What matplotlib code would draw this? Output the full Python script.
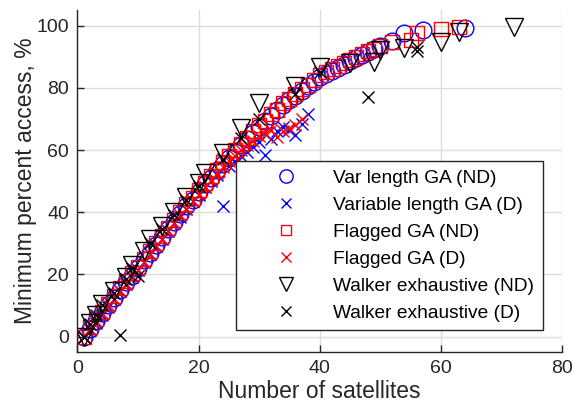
"""Minimum percent access vs. constellation size for the GA and Walker searches."""
import matplotlib

matplotlib.use("Agg")

import matplotlib.pyplot as plt  # noqa: E402

plt.rcParams["font.family"] = ["Liberation Sans", "DejaVu Sans"]

# --------------------------------------------------------------------------- #
# Data
# --------------------------------------------------------------------------- #
# Variable-length GA, non-degraded
var_nd_n = [1, 2, 3, 4, 5, 6, 7, 8, 9, 10, 11, 12, 13, 14, 15, 16, 17, 18,
            19, 20, 21, 22, 23, 24, 25, 26, 27, 28, 29, 30, 31, 32, 33, 34,
            35, 36, 37, 38, 39, 40, 41, 42, 43, 44, 45, 46, 47, 48, 49, 50,
            52, 54, 57, 64]
var_nd_pct = [0, 2.5, 5, 7.5, 10, 12.5, 15, 17.5, 19.5, 22, 24.5, 27, 29.5,
              32, 34.5, 37, 39.5, 42, 44, 46.5, 49, 51, 53.5, 55.5, 57.5,
              59.5, 61.5, 63.5, 65.5, 67.5, 69.5, 71, 73, 74.5, 76, 77.5, 79,
              80.5, 82, 83.5, 84.5, 85.5, 86.5, 87.5, 88.5, 89.5, 90.5, 91.5,
              92.5, 93.5, 95, 97.5, 98.5, 99.3]

# Variable-length GA, degraded
var_d_n = [1, 2, 3, 4, 5, 6, 7, 8, 9, 10, 11, 12, 13, 14, 15, 16, 17, 18,
           19, 20, 21, 22, 23, 24, 25, 26, 27, 28, 29, 30, 31, 32, 33, 34,
           35, 36, 37, 38]
var_d_pct = [0, 2, 4.5, 7, 9.5, 12, 14.5, 17, 19, 21.5, 24, 26.5, 29, 31.5,
             34, 36.5, 38.5, 41, 43.5, 45.5, 48, 50, 52, 42, 55, 56.5, 58,
             59.5, 61, 62.5, 58.5, 63.5, 66, 67.5, 66.5, 64.7, 68.3, 71.7]

# Flagged GA, non-degraded
flag_nd_n = [1, 2, 3, 4, 5, 6, 7, 8, 9, 10, 11, 12, 13, 14, 15, 16, 17, 18,
             19, 20, 21, 22, 23, 24, 25, 26, 27, 28, 29, 30, 31, 32, 33, 34,
             35, 36, 37, 38, 39, 40, 41, 42, 43, 44, 45, 46, 47, 48, 49, 50,
             52, 55, 56, 60, 63]
flag_nd_pct = [0, 3, 5.5, 8, 10.5, 13, 15.5, 18, 20.5, 22.5, 25, 27.5, 30,
               32.5, 35, 37.5, 40, 42.5, 44.5, 47, 49.5, 51.5, 53.5, 56, 58,
               60, 62, 64, 66, 68, 69.5, 71.5, 73, 75, 76.5, 78, 79.5, 81,
               82.5, 84, 85, 86, 87, 88, 89, 90, 91, 92, 92.5, 93.5, 94.8,
               95.4, 97.5, 98.8, 99.7]

# Flagged GA, degraded
flag_d_n = [1, 2, 3, 4, 5, 6, 7, 8, 9, 10, 11, 12, 13, 14, 15, 16, 17, 18,
            19, 20, 21, 22, 23, 24, 25, 26, 27, 28, 29, 30, 31, 32, 33, 34,
            35, 36, 37]
flag_d_pct = [0, 2.5, 5, 7.5, 10, 12, 14.5, 17, 19.5, 21.5, 24, 26.5, 29,
              31.5, 34, 36.5, 39, 41, 43.5, 46, 48, 50.5, 52.5, 54.5, 56.5,
              58, 60, 61.5, 63, 64.5, 65, 66.5, 64.2, 66, 67, 68, 70]

# Walker exhaustive search, non-degraded
walker_nd_n = [1, 2, 3, 4, 6, 8, 9, 11, 12, 14, 16, 18, 20, 21, 24, 27, 30,
               36, 40, 45, 49, 50, 54, 60, 63, 72]
walker_nd_pct = [0, 4.5, 7, 10.5, 14.5, 19, 23, 27.5, 31.5, 35.5, 40, 45,
                 49.5, 52.5, 59, 67, 75, 80.5, 86.8, 88, 88.4, 92.2, 92.7,
                 94.8, 98, 99.7]

# Walker exhaustive search, degraded
walker_d_n = [1, 2, 3, 4, 6, 7, 8, 9, 10, 12, 14, 16, 18, 20, 24, 27, 30,
              36, 40, 48, 56, 56]
walker_d_pct = [0, 4, 7, 10, 14, 0.5, 18.5, 22, 19.5, 30, 34.5, 39, 44, 48.5,
                57, 64, 70, 78, 85, 77, 92, 93]

# --------------------------------------------------------------------------- #
# Figure
# --------------------------------------------------------------------------- #
ink = "#262626"
fig = plt.figure(figsize=(5.74, 4.07), dpi=100)
ax = fig.add_axes([0.135, 0.135, 0.844, 0.840])

mk = dict(linestyle="none", markerfacecolor="none", markeredgewidth=1.0)
ax.plot(var_nd_n, var_nd_pct, marker="o", markersize=12,
        markeredgecolor="#0000ff", label="Var length GA (ND)", **mk)
ax.plot(var_d_n, var_d_pct, marker="x", markersize=9,
        markeredgecolor="#0000ff", label="Variable length GA (D)", **mk)
ax.plot(flag_nd_n, flag_nd_pct, marker="s", markersize=9.5,
        markeredgecolor="#ff0000", label="Flagged GA (ND)", **mk)
ax.plot(flag_d_n, flag_d_pct, marker="x", markersize=9,
        markeredgecolor="#ff0000", label="Flagged GA (D)", **mk)
ax.plot(walker_nd_n, walker_nd_pct, marker="v", markersize=13,
        markeredgecolor="black", label="Walker exhaustive (ND)", **mk)
ax.plot(walker_d_n, walker_d_pct, marker="x", markersize=9,
        markeredgecolor="black", label="Walker exhaustive (D)", **mk)

ax.set_xlim(0, 80)
ax.set_ylim(-5, 105)
ax.set_xticks([0, 20, 40, 60, 80])
ax.set_yticks([0, 20, 40, 60, 80, 100])
ax.grid(True, color="#dcdcdc", linewidth=1.0)
ax.set_axisbelow(True)

for side in ("top", "right"):
    ax.spines[side].set_visible(False)
for side in ("left", "bottom"):
    ax.spines[side].set_color(ink)
    ax.spines[side].set_linewidth(1.0)
ax.tick_params(direction="in", length=5, width=1.0, color=ink,
               labelcolor=ink, labelsize=14, pad=6)

ax.set_xlabel("Number of satellites", fontsize=16.5, color=ink, labelpad=2)
ax.set_ylabel("Minimum percent access, %", fontsize=16.5, color=ink,
              labelpad=0)

leg = ax.legend(loc="lower right", bbox_to_anchor=(0.961, 0.064),
                fontsize=13.8, frameon=True, fancybox=False, framealpha=1.0,
                edgecolor=ink, labelspacing=0.5, handlelength=4.4,
                handletextpad=0.25, borderpad=0.45, borderaxespad=0.0)
leg.get_frame().set_linewidth(1.0)
for h in leg.legend_handles:
    h.set_markersize(h.get_markersize() * 0.8)

fig.savefig("out.png", dpi=100)
